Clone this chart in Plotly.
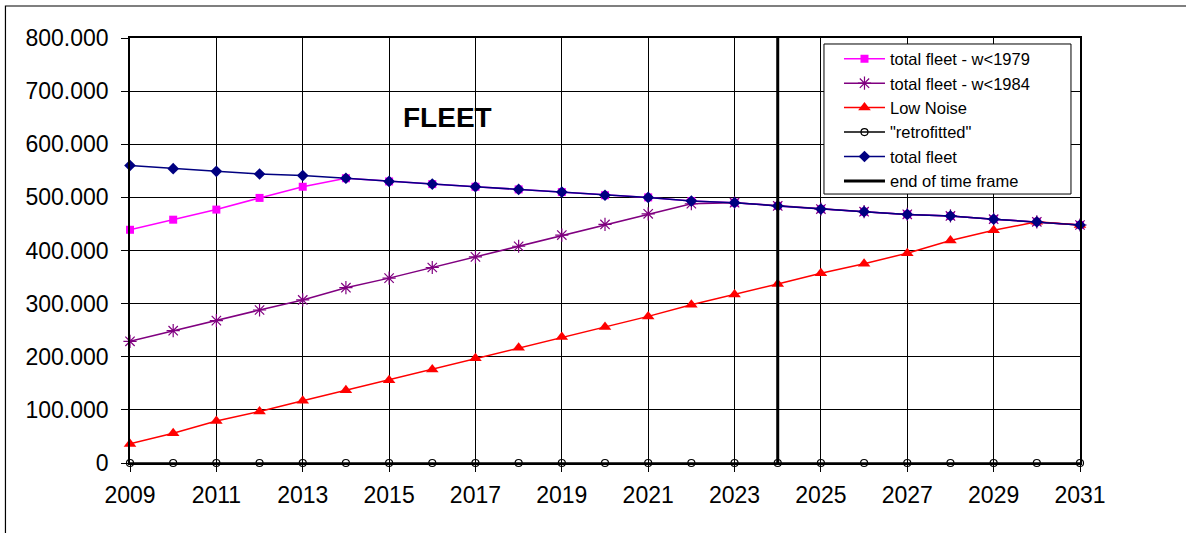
import plotly.graph_objects as go

years = list(range(2009, 2032))
total_fleet = [560, 554, 549, 544, 541, 536, 530, 525, 520, 515, 510, 504, 500, 493, 490, 484, 478, 473, 468, 465, 459, 454, 448]
fleet_w1979 = [439, 458, 477, 499, 520, 536, 530, 525, 520, 515, 510, 504, 500, 493, 490, 484, 478, 473, 468, 465, 459, 454, 448]
fleet_w1984 = [229, 249, 268, 288, 307, 330, 348, 368, 388, 408, 429, 449, 469, 488, 490, 484, 478, 473, 468, 465, 459, 454, 448]
low_noise = [36, 56, 79, 97, 117, 137, 156, 176, 197, 217, 237, 256, 276, 298, 317, 337, 357, 375, 395, 419, 438, 454, 448]
retrofitted = [0] * len(years)
end_of_time_frame = 2024
y_ticks = [0, 100, 200, 300, 400, 500, 600, 700, 800]
y_tick_labels = ["0", "100.000", "200.000", "300.000", "400.000", "500.000", "600.000", "700.000", "800.000"]
x_ticks = list(range(2009, 2032, 2))

FONT = "Liberation Sans, Arial, sans-serif"

fig = go.Figure()
fig.add_trace(go.Scatter(x=years, y=fleet_w1979, name="total fleet - w<1979", mode="lines+markers",
                         line=dict(color="#FF00FF", width=1.5),
                         marker=dict(symbol="square", size=8, color="#FF00FF"), cliponaxis=False))
fig.add_trace(go.Scatter(x=years, y=fleet_w1984, name="total fleet - w<1984", mode="lines+markers",
                         line=dict(color="#800080", width=1.5),
                         marker=dict(symbol="asterisk-open", size=11, color="#800080", line=dict(color="#800080", width=1.2)),
                         cliponaxis=False))
fig.add_trace(go.Scatter(x=years, y=low_noise, name="Low Noise", mode="lines+markers",
                         line=dict(color="#FF0000", width=1.5),
                         marker=dict(symbol="triangle-up", size=11, color="#FF0000"), cliponaxis=False))
fig.add_trace(go.Scatter(x=years, y=retrofitted, name="\"retrofitted\"", mode="lines+markers",
                         line=dict(color="#000000", width=1.5),
                         marker=dict(symbol="circle-open", size=7, color="#000000", line=dict(color="#000000", width=1.2)),
                         cliponaxis=False))
fig.add_trace(go.Scatter(x=years, y=total_fleet, name="total fleet", mode="lines+markers",
                         line=dict(color="#000080", width=1.5),
                         marker=dict(symbol="diamond", size=9, color="#000080"), cliponaxis=False))
fig.add_trace(go.Scatter(x=[end_of_time_frame, end_of_time_frame], y=[y_ticks[0], y_ticks[-1]],
                         name="end of time frame", mode="lines",
                         line=dict(color="#000000", width=3), cliponaxis=False))

fig.add_annotation(text="<b>FLEET</b>", xref="paper", yref="paper", x=0.3337, y=0.814,
                   showarrow=False, font=dict(family=FONT, size=28, color="black"),
                   xanchor="center", yanchor="middle")

# outer frame (cropped at right/bottom in the reference)
fig.add_shape(type="rect", xref="paper", yref="paper", x0=-0.1311, y0=-0.2, x1=1.2, y1=1.0753,
              line=dict(color="black", width=1.2), fillcolor="rgba(0,0,0,0)", layer="below")
# legend frame
fig.add_shape(type="rect", xref="paper", yref="paper", x0=0.7305, y0=0.6329, x1=0.9905, y1=0.9859,
              line=dict(color="black", width=1), fillcolor="white", layer="above")

fig.update_layout(
    width=1186, height=533,
    margin=dict(l=130, r=106, t=38, b=70),
    paper_bgcolor="white", plot_bgcolor="white",
    font=dict(family=FONT, color="black"),
    showlegend=True,
    legend=dict(x=0.7463, y=0.9918, xanchor="left", yanchor="top",
                bgcolor="rgba(0,0,0,0)", borderwidth=0,
                font=dict(family=FONT, size=16.5, color="black"),
                tracegroupgap=0, itemwidth=41),
    xaxis=dict(range=[years[0], years[-1]], tickvals=x_ticks, ticktext=[str(v) for v in x_ticks],
               showgrid=True, gridcolor="#000000", gridwidth=1,
               showline=True, linecolor="black", linewidth=1.5, mirror=True,
               ticks="outside", ticklen=7, tickcolor="black", tickwidth=1,
               tickfont=dict(family=FONT, size=23, color="black"), zeroline=False,
               ticklabelstandoff=4),
    yaxis=dict(range=[y_ticks[0], y_ticks[-1]], tickvals=y_ticks, ticktext=y_tick_labels,
               showgrid=True, gridcolor="#000000", gridwidth=1,
               showline=True, linecolor="black", linewidth=1.5, mirror=True,
               ticks="outside", ticklen=7, tickcolor="black", tickwidth=1,
               tickfont=dict(family=FONT, size=23, color="black"), zeroline=False,
               ticklabelstandoff=8),
)

fig.write_html("out.html", config={"displayModeBar": False},
               post_script="document.body.style.margin='0';document.body.style.overflow='hidden';")
